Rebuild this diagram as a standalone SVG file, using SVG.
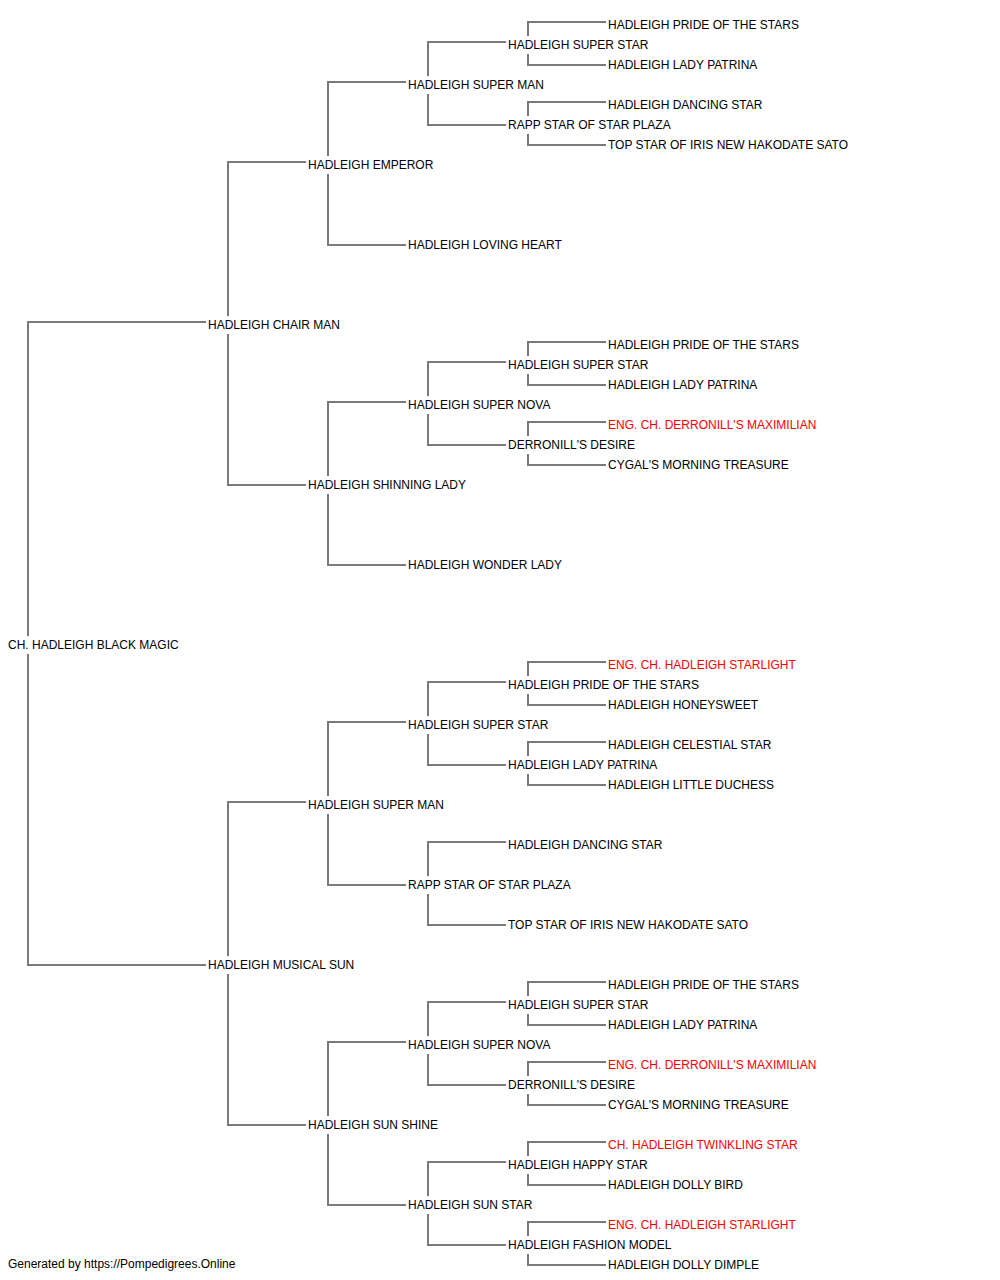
<svg xmlns="http://www.w3.org/2000/svg" width="1000" height="1280" viewBox="0 0 1000 1280">
<style>
text{font-family:"Liberation Sans",Arial,sans-serif;font-size:12px;fill:#000}
text.red{fill:#ff0000}
#connectors path{fill:none;stroke:#7a7a7a;stroke-width:2}
</style>
<rect width="1000" height="1280" fill="#fff"/>
<g id="connectors">
<path d="M28 636V322H206M28 654V965H206"/>
<path d="M228 316V162H306M228 334V485H306"/>
<path d="M328 156V82H406M328 174V245H406"/>
<path d="M428 76V42H506M428 94V125H506"/>
<path d="M528 36V22H606M528 54V65H606"/>
<path d="M528 116V102H606M528 134V145H606"/>
<path d="M328 476V402H406M328 494V565H406"/>
<path d="M428 396V362H506M428 414V445H506"/>
<path d="M528 356V342H606M528 374V385H606"/>
<path d="M528 436V422H606M528 454V465H606"/>
<path d="M228 956V802H306M228 974V1125H306"/>
<path d="M328 796V722H406M328 814V885H406"/>
<path d="M428 716V682H506M428 734V765H506"/>
<path d="M528 676V662H606M528 694V705H606"/>
<path d="M528 756V742H606M528 774V785H606"/>
<path d="M428 876V842H506M428 894V925H506"/>
<path d="M328 1116V1042H406M328 1134V1205H406"/>
<path d="M428 1036V1002H506M428 1054V1085H506"/>
<path d="M528 996V982H606M528 1014V1025H606"/>
<path d="M528 1076V1062H606M528 1094V1105H606"/>
<path d="M428 1196V1162H506M428 1214V1245H506"/>
<path d="M528 1156V1142H606M528 1174V1185H606"/>
<path d="M528 1236V1222H606M528 1254V1265H606"/>
</g>
<g id="n-root"><text x="8" y="649">CH. HADLEIGH BLACK MAGIC</text></g>
<g id="n-chairman"><text x="208" y="329">HADLEIGH CHAIR MAN</text></g>
<g id="n-emperor"><text x="308" y="169">HADLEIGH EMPEROR</text></g>
<g id="n-superman1"><text x="408" y="89">HADLEIGH SUPER MAN</text></g>
<g id="n-superstar1"><text x="508" y="49">HADLEIGH SUPER STAR</text></g>
<g id="n-pride1"><text x="608" y="29">HADLEIGH PRIDE OF THE STARS</text></g>
<g id="n-patrina1"><text x="608" y="69">HADLEIGH LADY PATRINA</text></g>
<g id="n-rapp1"><text x="508" y="129">RAPP STAR OF STAR PLAZA</text></g>
<g id="n-dancing1"><text x="608" y="109">HADLEIGH DANCING STAR</text></g>
<g id="n-topstar1"><text x="608" y="149">TOP STAR OF IRIS NEW HAKODATE SATO</text></g>
<g id="n-loving"><text x="408" y="249">HADLEIGH LOVING HEART</text></g>
<g id="n-shinning"><text x="308" y="489">HADLEIGH SHINNING LADY</text></g>
<g id="n-supernova1"><text x="408" y="409">HADLEIGH SUPER NOVA</text></g>
<g id="n-superstar2"><text x="508" y="369">HADLEIGH SUPER STAR</text></g>
<g id="n-pride2"><text x="608" y="349">HADLEIGH PRIDE OF THE STARS</text></g>
<g id="n-patrina2"><text x="608" y="389">HADLEIGH LADY PATRINA</text></g>
<g id="n-desire1"><text x="508" y="449">DERRONILL'S DESIRE</text></g>
<g id="n-maxim1"><text class="red" x="608" y="429">ENG. CH. DERRONILL'S MAXIMILIAN</text></g>
<g id="n-cygal1"><text x="608" y="469">CYGAL'S MORNING TREASURE</text></g>
<g id="n-wonder"><text x="408" y="569">HADLEIGH WONDER LADY</text></g>
<g id="n-musical"><text x="208" y="969">HADLEIGH MUSICAL SUN</text></g>
<g id="n-superman2"><text x="308" y="809">HADLEIGH SUPER MAN</text></g>
<g id="n-superstar3"><text x="408" y="729">HADLEIGH SUPER STAR</text></g>
<g id="n-pride3"><text x="508" y="689">HADLEIGH PRIDE OF THE STARS</text></g>
<g id="n-starlight1"><text class="red" x="608" y="669">ENG. CH. HADLEIGH STARLIGHT</text></g>
<g id="n-honey"><text x="608" y="709">HADLEIGH HONEYSWEET</text></g>
<g id="n-patrina3"><text x="508" y="769">HADLEIGH LADY PATRINA</text></g>
<g id="n-celestial"><text x="608" y="749">HADLEIGH CELESTIAL STAR</text></g>
<g id="n-duchess"><text x="608" y="789">HADLEIGH LITTLE DUCHESS</text></g>
<g id="n-rapp2"><text x="408" y="889">RAPP STAR OF STAR PLAZA</text></g>
<g id="n-dancing2"><text x="508" y="849">HADLEIGH DANCING STAR</text></g>
<g id="n-topstar2"><text x="508" y="929">TOP STAR OF IRIS NEW HAKODATE SATO</text></g>
<g id="n-sunshine"><text x="308" y="1129">HADLEIGH SUN SHINE</text></g>
<g id="n-supernova2"><text x="408" y="1049">HADLEIGH SUPER NOVA</text></g>
<g id="n-superstar4"><text x="508" y="1009">HADLEIGH SUPER STAR</text></g>
<g id="n-pride4"><text x="608" y="989">HADLEIGH PRIDE OF THE STARS</text></g>
<g id="n-patrina4"><text x="608" y="1029">HADLEIGH LADY PATRINA</text></g>
<g id="n-desire2"><text x="508" y="1089">DERRONILL'S DESIRE</text></g>
<g id="n-maxim2"><text class="red" x="608" y="1069">ENG. CH. DERRONILL'S MAXIMILIAN</text></g>
<g id="n-cygal2"><text x="608" y="1109">CYGAL'S MORNING TREASURE</text></g>
<g id="n-sunstar"><text x="408" y="1209">HADLEIGH SUN STAR</text></g>
<g id="n-happy"><text x="508" y="1169">HADLEIGH HAPPY STAR</text></g>
<g id="n-twinkling"><text class="red" x="608" y="1149">CH. HADLEIGH TWINKLING STAR</text></g>
<g id="n-dollybird"><text x="608" y="1189">HADLEIGH DOLLY BIRD</text></g>
<g id="n-fashion"><text x="508" y="1249">HADLEIGH FASHION MODEL</text></g>
<g id="n-starlight2"><text class="red" x="608" y="1229">ENG. CH. HADLEIGH STARLIGHT</text></g>
<g id="n-dimple"><text x="608" y="1269">HADLEIGH DOLLY DIMPLE</text></g>
<text x="8" y="1268">Generated by https://Pompedigrees.Online</text>
</svg>
